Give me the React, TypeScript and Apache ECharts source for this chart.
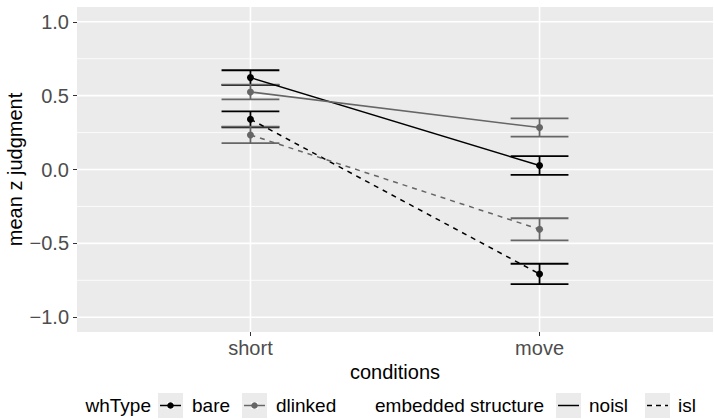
import React, { useEffect, useRef } from "react";
import * as echarts from "echarts";

const categories = ["short", "move"];
const xPositions = [1, 2];
const bareNoisl = [0.622, 0.027];
const bareNoislSe = [0.05, 0.064];
const dlinkedNoisl = [0.525, 0.284];
const dlinkedNoislSe = [0.05, 0.062];
const bareIsl = [0.34, -0.707];
const bareIslSe = [0.054, 0.069];
const dlinkedIsl = [0.234, -0.405];
const dlinkedIslSe = [0.056, 0.075];
const yMajorTicks = [-1, -0.5, 0, 0.5, 1];
const yMinorTicks = [-0.75, -0.25, 0.25, 0.75];

const BLACK = "#000000";
const GRAY = "#666666";
const FONT = "Liberation Sans, Arial, Helvetica, sans-serif";

export default function App() {
  const ref = useRef<HTMLDivElement>(null);
  useEffect(() => {
    if (!ref.current) return;
    const chart = echarts.init(ref.current, null, { renderer: "svg" });

    const groups = [
      { name: "bare-noisl", vals: bareNoisl, se: bareNoislSe, color: BLACK, dash: "solid" },
      { name: "dlinked-noisl", vals: dlinkedNoisl, se: dlinkedNoislSe, color: GRAY, dash: "solid" },
      { name: "bare-isl", vals: bareIsl, se: bareIslSe, color: BLACK, dash: [5, 5] },
      { name: "dlinked-isl", vals: dlinkedIsl, se: dlinkedIslSe, color: GRAY, dash: [5, 5] },
    ];

    const gridData: any[] = [];
    yMinorTicks.forEach((v) => gridData.push(["y", v, 0.8]));
    yMajorTicks.forEach((v) => gridData.push(["y", v, 1.6]));
    xPositions.forEach((v) => gridData.push(["x", v, 1.6]));

    const gridSeries: any = {
      type: "custom",
      silent: true,
      z: 0,
      data: gridData.map((d) => [d[0] === "x" ? d[1] : 1, d[0] === "y" ? d[1] : 0]),
      renderItem: (params: any, api: any) => {
        const d = gridData[params.dataIndex];
        const cs = params.coordSys;
        if (d[0] === "y") {
          const y = api.coord([1, d[1]])[1];
          return {
            type: "line",
            shape: { x1: cs.x, y1: y, x2: cs.x + cs.width, y2: y },
            style: { stroke: "#FFFFFF", lineWidth: d[2] },
          };
        }
        const x = api.coord([d[1], 0])[0];
        return {
          type: "line",
          shape: { x1: x, y1: cs.y, x2: x, y2: cs.y + cs.height },
          style: { stroke: "#FFFFFF", lineWidth: d[2] },
        };
      },
    };

    const errData: any[] = [];
    groups.forEach((g, gi) => {
      g.vals.forEach((v, i) => {
        errData.push([xPositions[i], v - g.se[i], v + g.se[i], gi]);
      });
    });

    const errSeries: any = {
      type: "custom",
      silent: true,
      z: 2,
      data: errData,
      encode: { x: 0, y: [1, 2] },
      renderItem: (params: any, api: any) => {
        const x = api.value(0);
        const lo = api.value(1);
        const hi = api.value(2);
        const g = groups[api.value(3)];
        const pLo = api.coord([x, lo]);
        const pHi = api.coord([x, hi]);
        const l = api.coord([x - 0.1, lo])[0];
        const r = api.coord([x + 0.1, lo])[0];
        const style = { stroke: g.color, lineWidth: 1.8 };
        return {
          type: "group",
          children: [
            { type: "line", shape: { x1: pLo[0], y1: pLo[1], x2: pHi[0], y2: pHi[1] }, style },
            { type: "line", shape: { x1: l, y1: pLo[1], x2: r, y2: pLo[1] }, style },
            { type: "line", shape: { x1: l, y1: pHi[1], x2: r, y2: pHi[1] }, style },
          ],
        };
      },
    };

    const lineSeries = groups.map((g) => ({
      type: "line",
      name: g.name,
      z: 3,
      data: g.vals.map((v, i) => [xPositions[i], v]),
      symbol: "circle",
      symbolSize: 7,
      showSymbol: true,
      itemStyle: { color: g.color },
      lineStyle: { color: g.color, width: 1.5, type: g.dash },
      silent: true,
    }));

    const legendY = 405.5;
    const keyTop = 393;
    const keySize = 25;
    const keyMid = keyTop + keySize / 2;
    const keys = [
      { x: 158, color: BLACK, dash: null as any, point: true },
      { x: 242, color: GRAY, dash: null as any, point: true },
      { x: 556, color: BLACK, dash: null as any, point: false },
      { x: 645, color: BLACK, dash: [5, 4], point: false },
    ];

    // key background split into pieces that do not overlap the key's line/point
    const boxPieces = (x: number, point: boolean) => {
      const t = keyTop;
      const b = keyTop + keySize;
      const m = keyMid;
      const h = 0.75;
      const cx = x + keySize / 2;
      const r = point ? 3.4 : h;
      const p: number[][] = [];
      p.push([x, t, keySize, m - r - t]);
      p.push([x, m + r, keySize, b - (m + r)]);
      if (point) {
        p.push([x, m - r, cx - r - x, r - h]);
        p.push([cx + r, m - r, x + keySize - (cx + r), r - h]);
        p.push([x, m + h, cx - r - x, r - h]);
        p.push([cx + r, m + h, x + keySize - (cx + r), r - h]);
      }
      p.push([x, m - h, 2, 2 * h]);
      p.push([x + keySize - 2, m - h, 2, 2 * h]);
      return p.map((q) => ({
        type: "rect",
        shape: { x: q[0], y: q[1], width: q[2], height: q[3] },
        style: { fill: "#EBEBEB" },
      }));
    };

    const keySeries: any = {
      type: "custom",
      silent: true,
      clip: false,
      z: 5,
      data: [[1, 0]],
      renderItem: () => {
        const children: any[] = [];
        keys.forEach((k) => {
          children.push(...boxPieces(k.x, k.point));
          children.push({
            type: "line",
            shape: { x1: k.x + 2, y1: keyMid, x2: k.x + keySize - 2, y2: keyMid },
            style: { stroke: k.color, lineWidth: 1.5, lineDash: k.dash },
          });
          if (k.point) {
            children.push({
              type: "circle",
              shape: { cx: k.x + keySize / 2, cy: keyMid, r: 3.3 },
              style: { fill: k.color },
            });
          }
        });
        return { type: "group", children };
      },
    };

    const textStyle = (text: string, x: number, align = "left") => ({
      type: "text",
      x,
      y: legendY,
      style: {
        text,
        fill: "#000",
        font: `19px ${FONT}`,
        textAlign: align,
        textVerticalAlign: "middle",
      },
    });

    const graphic = [
      textStyle("whType", 151, "right"),
      textStyle("bare", 192),
      textStyle("dlinked", 276),
      textStyle("embedded structure", 375),
      textStyle("noisl", 589),
      textStyle("isl", 678),
    ];

    chart.setOption({
      animation: false,
      backgroundColor: "#FFFFFF",
      grid: {
        left: 77,
        top: 7,
        right: 1,
        bottom: 87,
        show: true,
        backgroundColor: "#EBEBEB",
        borderWidth: 0,
        outerBoundsMode: "none",
        containLabel: false,
      },
      xAxis: {
        type: "value",
        min: 0.4,
        max: 2.6,
        name: "conditions",
        nameLocation: "middle",
        nameGap: 30,
        nameMoveOverlap: false,
        nameTextStyle: { color: "#000", fontSize: 20, fontFamily: FONT },
        axisLine: { show: false, onZero: false },
        splitLine: { show: false },
        axisTick: { show: true, customValues: xPositions, length: 4, lineStyle: { color: "#333333", width: 1 } },
        axisLabel: {
          customValues: xPositions,
          formatter: (v: number) => categories[Math.round(v) - 1] ?? "",
          color: "#4D4D4D",
          fontSize: 20,
          fontFamily: FONT,
          margin: 6,
        },
      },
      yAxis: {
        type: "value",
        min: -1.1,
        max: 1.1,
        name: "mean z judgment",
        nameLocation: "middle",
        nameGap: 52,
        nameMoveOverlap: false,
        nameTextStyle: { color: "#000", fontSize: 20, fontFamily: FONT },
        axisLine: { show: false, onZero: false },
        splitLine: { show: false },
        axisTick: { show: true, customValues: yMajorTicks, length: 4, lineStyle: { color: "#333333", width: 1 } },
        axisLabel: {
          customValues: yMajorTicks,
          formatter: (v: number) => (v < 0 ? "\u2212" + Math.abs(v).toFixed(1) : v.toFixed(1)),
          color: "#4D4D4D",
          fontSize: 20,
          fontFamily: FONT,
          margin: 8,
        },
      },
      graphic,
      series: [gridSeries, errSeries, ...lineSeries, keySeries],
    });

    return () => chart.dispose();
  }, []);

  return (
    <div
      ref={ref}
      style={{ position: "fixed", left: 0, top: 0, width: 714, height: 419 }}
    />
  );
}
